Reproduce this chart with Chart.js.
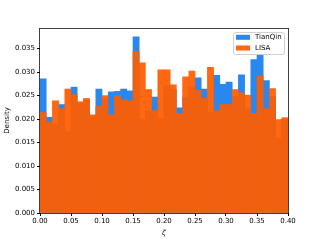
<!DOCTYPE html>
<html>
<head>
<meta charset="utf-8">
<script src="https://cdn.jsdelivr.net/npm/chart.js@4"></script>
<style>
  html, body { margin: 0; padding: 0; background: #fff; }
</style>
</head>
<body>
<canvas id="chart" width="320" height="240"></canvas>
<script>
// histogram bins (left edges), width 0.01
const binWidth = 0.01
const zetaBins = [0.00, 0.01, 0.02, 0.03, 0.04, 0.05, 0.06, 0.07, 0.08, 0.09,
                  0.10, 0.11, 0.12, 0.13, 0.14, 0.15, 0.16, 0.17, 0.18, 0.19,
                  0.20, 0.21, 0.22, 0.23, 0.24, 0.25, 0.26, 0.27, 0.28, 0.29,
                  0.30, 0.31, 0.32, 0.33, 0.34, 0.35, 0.36, 0.37, 0.38, 0.39]

const tianqin = [0.0286, 0.0204, 0.0189, 0.0231, 0.0173, 0.0268, 0.0232, 0.0240, 0.0205, 0.0264,
                 0.0244, 0.0258, 0.0259, 0.0264, 0.0260, 0.0375, 0.0199, 0.0217, 0.0247, 0.0201,
                 0.0271, 0.0263, 0.0224, 0.0246, 0.0268, 0.0288, 0.0264, 0.0215, 0.0293, 0.0274,
                 0.0279, 0.0248, 0.0294, 0.0222, 0.0327, 0.0337, 0.0282, 0.0248, 0.0159, 0.0200]

const lisa = [0.0214, 0.0194, 0.0239, 0.0222, 0.0264, 0.0252, 0.0237, 0.0244, 0.0209, 0.0227,
              0.0250, 0.0209, 0.0250, 0.0241, 0.0239, 0.0344, 0.0320, 0.0263, 0.0218, 0.0305,
              0.0305, 0.0273, 0.0212, 0.0290, 0.0302, 0.0261, 0.0244, 0.0310, 0.0218, 0.0231,
              0.0231, 0.0263, 0.0256, 0.0251, 0.0212, 0.0292, 0.0222, 0.0265, 0.0199, 0.0203]

const xTicks = [0.00, 0.05, 0.10, 0.15, 0.20, 0.25, 0.30, 0.35, 0.40]
const yTicks = [0.000, 0.005, 0.010, 0.015, 0.020, 0.025, 0.030, 0.035]

const font = { family: 'DejaVu Sans', size: 7 }

function toPoints(values) {
    return values.map((v, i) => ({ x: zetaBins[i] + binWidth / 2, y: v }))
}

// axes box on all four sides, like matplotlib
const frame = {
    id: 'frame',
    afterDatasetsDraw(chart) {
        const { ctx, chartArea: a } = chart
        ctx.save()
        ctx.strokeStyle = 'rgba(0,0,0,0.75)'
        ctx.lineWidth = 1
        ctx.strokeRect(Math.round(a.left) - 0.5, Math.round(a.top) + 0.5,
                       Math.round(a.right - a.left) + 1, Math.round(a.bottom - a.top))
        ctx.restore()
    }
}

// legend box in upper right
const boxLegend = {
    id: 'boxLegend',
    afterDraw(chart) {
        const { ctx } = chart
        const x = 233, y = 32, w = 51, h = 22
        ctx.save()
        ctx.fillStyle = 'rgba(255,255,255,0.8)'
        ctx.strokeStyle = 'rgba(204,204,204,0.9)'
        ctx.lineWidth = 1
        ctx.beginPath()
        ctx.roundRect(x + 0.5, y + 0.5, w, h, 2)
        ctx.fill()
        ctx.stroke()
        ctx.font = '7px "DejaVu Sans"'
        ctx.textBaseline = 'middle'
        chart.data.datasets.forEach((ds, i) => {
            const cy = y + 5.3 + i * 10.7
            ctx.fillStyle = ds.backgroundColor
            ctx.fillRect(x + 3, cy - 2.5, 14, 5)
            ctx.fillStyle = '#000'
            ctx.fillText(ds.label, x + 22, cy)
        })
        ctx.restore()
    }
}

new Chart(document.getElementById('chart'), {
    type: 'bar',
    data: {
        datasets: [
            {
                label: 'TianQin',
                data: toPoints(tianqin),
                backgroundColor: 'rgb(40,136,240)',
                borderWidth: 0,
                order: 1
            },
            {
                label: 'LISA',
                data: toPoints(lisa),
                backgroundColor: 'rgba(255,93,0,0.93)',
                borderWidth: 0,
                order: 0
            }
        ]
    },
    options: {
        responsive: false,
        animation: false,
        devicePixelRatio: 1,
        layout: { padding: { left: 0, top: 28, right: 32, bottom: 0 } },
        datasets: {
            bar: { grouped: false, barPercentage: 1, categoryPercentage: 1 }
        },
        scales: {
            x: {
                type: 'linear',
                min: 0,
                max: 0.4,
                offset: false,
                afterFit: s => { s.height = 27 },
                afterBuildTicks: s => { s.ticks = xTicks.map(v => ({ value: v })) },
                grid: { display: true, drawOnChartArea: false, drawTicks: true, tickLength: 3, color: '#000', offset: false },
                border: { display: false },
                ticks: { font, color: '#000', padding: 1, maxRotation: 0, callback: v => v.toFixed(2) },
                title: { display: true, text: 'ζ', font: { family: 'DejaVu Sans', size: 7, style: 'italic' }, color: '#000', padding: { top: 0, bottom: 3 } }
            },
            y: {
                min: 0,
                max: 0.0394,
                afterFit: s => { s.width = 40 },
                afterBuildTicks: s => { s.ticks = yTicks.map(v => ({ value: v })) },
                grid: { display: true, drawOnChartArea: false, drawTicks: true, tickLength: 3, color: '#000' },
                border: { display: false },
                ticks: { font, color: '#000', padding: 2, callback: v => v.toFixed(3) },
                title: { display: true, text: 'Density', font, color: '#000', padding: { top: 3, bottom: 0 } }
            }
        },
        plugins: {
            legend: { display: false },
            tooltip: { enabled: false }
        }
    },
    plugins: [frame, boxLegend]
})
</script>
</body>
</html>
